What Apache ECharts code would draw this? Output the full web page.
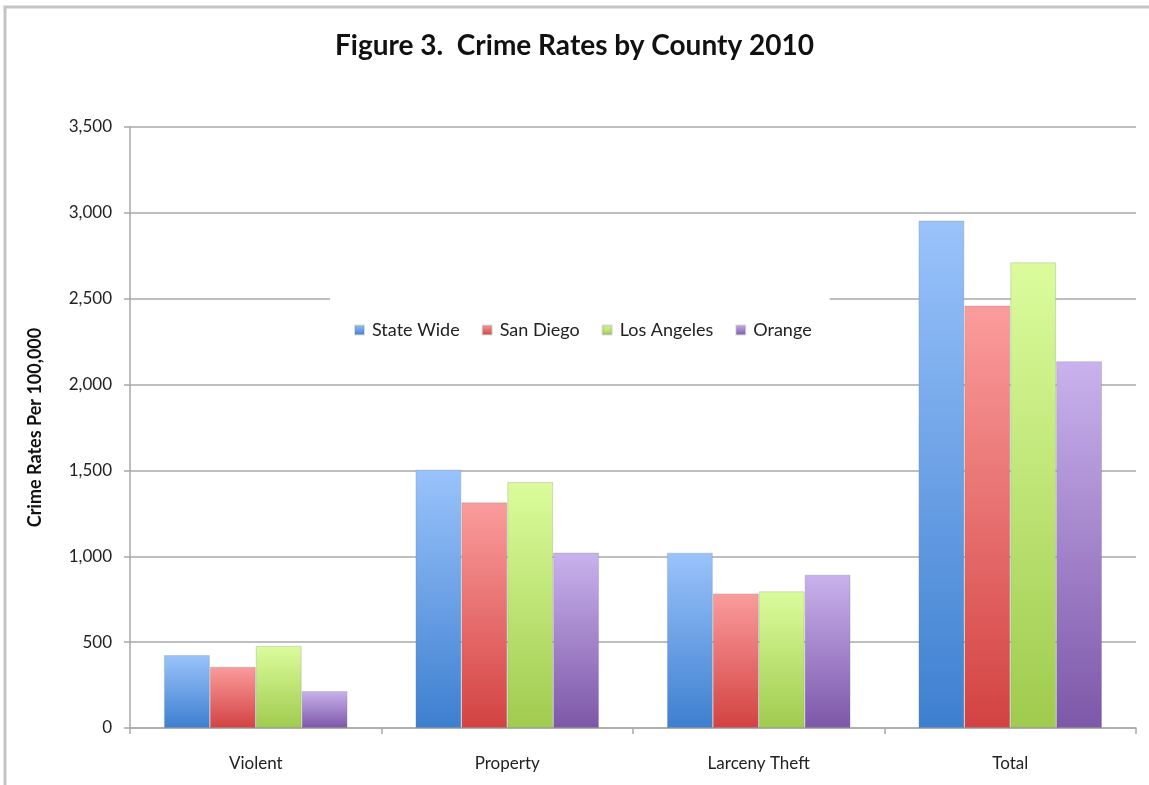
<!DOCTYPE html>
<html>
<head>
<meta charset="utf-8">
<script src="https://cdn.jsdelivr.net/npm/echarts@6/dist/echarts.min.js"></script>
<style>
html, body { margin: 0; padding: 0; background: #fff; }
#main { width: 1149px; height: 785px; }
</style>
</head>
<body>
<div id="main"></div>
<script>
var categories = ['Violent', 'Property', 'Larceny Theft', 'Total'];
var seriesNames = ['State Wide', 'San Diego', 'Los Angeles', 'Orange'];
var stateWide = [425, 1505, 1021, 2955];
var sanDiego = [357, 1314, 784, 2460];
var losAngeles = [478, 1432, 796, 2712];
var orange = [215, 1022, 893, 2136];
var yTicks = [0, 500, 1000, 1500, 2000, 2500, 3000, 3500];

var axisGray = '#a9a9a9';
var fontFam = 'Lato, "Open Sans", sans-serif';

// 上浅下深的渐变
function grad(top, bottom) {
	return new echarts.graphic.LinearGradient(0, 0, 0, 1, [
		{ offset: 0, color: top },
		{ offset: 1, color: bottom }
	]);
}
var fills = [
	grad('#9ac3fb', '#3d7fd0'),
	grad('#fb9c9c', '#d34242'),
	grad('#dcfc9c', '#9fcb4e'),
	grad('#c9b2ed', '#7d57a8')
];
var values = [stateWide, sanDiego, losAngeles, orange];

var series = seriesNames.map(function(name, i) {
	return {
		name: name,
		type: 'bar',
		data: values[i],
		barGap: '0%',
		barCategoryGap: '27%',
		itemStyle: {
			color: fills[i],
			borderColor: 'rgba(120,120,120,0.25)',
			borderWidth: 1
		}
	};
});

var myChart = echarts.init(document.getElementById('main'));
var option = {
	animation: false,
	backgroundColor: '#fff',
	title: {
		text: 'Figure 3.  Crime Rates by County 2010',
		left: 'center',
		top: 27,
		textStyle: {
			fontFamily: fontFam,
			fontSize: 28,
			fontWeight: 'bold',
			color: '#111'
		}
	},
	graphic: [{
		type: 'rect',
		shape: { x: 5, y: 7, width: 1300, height: 900 },
		style: { fill: 'none', stroke: '#c4c4c4', lineWidth: 3 },
		silent: true,
		z: 100
	}],
	legend: {
		data: seriesNames,
		left: 330,
		top: 293,
		backgroundColor: '#fff',
		padding: [28, 18, 28, 24],
		itemWidth: 9,
		itemHeight: 9,
		itemGap: 22,
		icon: 'rect',
		z: 10,
		textStyle: {
			fontFamily: fontFam,
			fontSize: 18,
			color: '#222',
			padding: [0, 0, 0, 3]
		}
	},
	grid: {
		left: 130,
		right: 13,
		top: 127,
		bottom: 57,
		containLabel: false
	},
	xAxis: {
		type: 'category',
		data: categories,
		axisLine: { lineStyle: { color: axisGray, width: 1.5 } },
		axisTick: { show: true, length: 6, lineStyle: { color: axisGray, width: 1.5 } },
		axisLabel: {
			fontFamily: fontFam,
			fontSize: 17,
			color: '#222',
			margin: 27
		}
	},
	yAxis: {
		type: 'value',
		min: yTicks[0],
		max: yTicks[yTicks.length - 1],
		interval: 500,
		name: 'Crime Rates Per 100,000',
		nameLocation: 'middle',
		nameRotate: 90,
		nameGap: 86,
		nameTextStyle: {
			fontFamily: fontFam,
			fontSize: 18,
			fontWeight: 'bold',
			color: '#111'
		},
		axisLine: { show: true, lineStyle: { color: axisGray, width: 1.5 } },
		axisTick: { show: true, length: 6, lineStyle: { color: axisGray, width: 1.5 } },
		axisLabel: {
			fontFamily: fontFam,
			fontSize: 17,
			color: '#222',
			margin: 18,
			formatter: function(v) {
				return v.toString().replace(/\B(?=(\d{3})+(?!\d))/g, ',');
			}
		},
		splitLine: { lineStyle: { color: axisGray, width: 1.5 } }
	},
	series: series
};
myChart.setOption(option);
</script>
</body>
</html>
